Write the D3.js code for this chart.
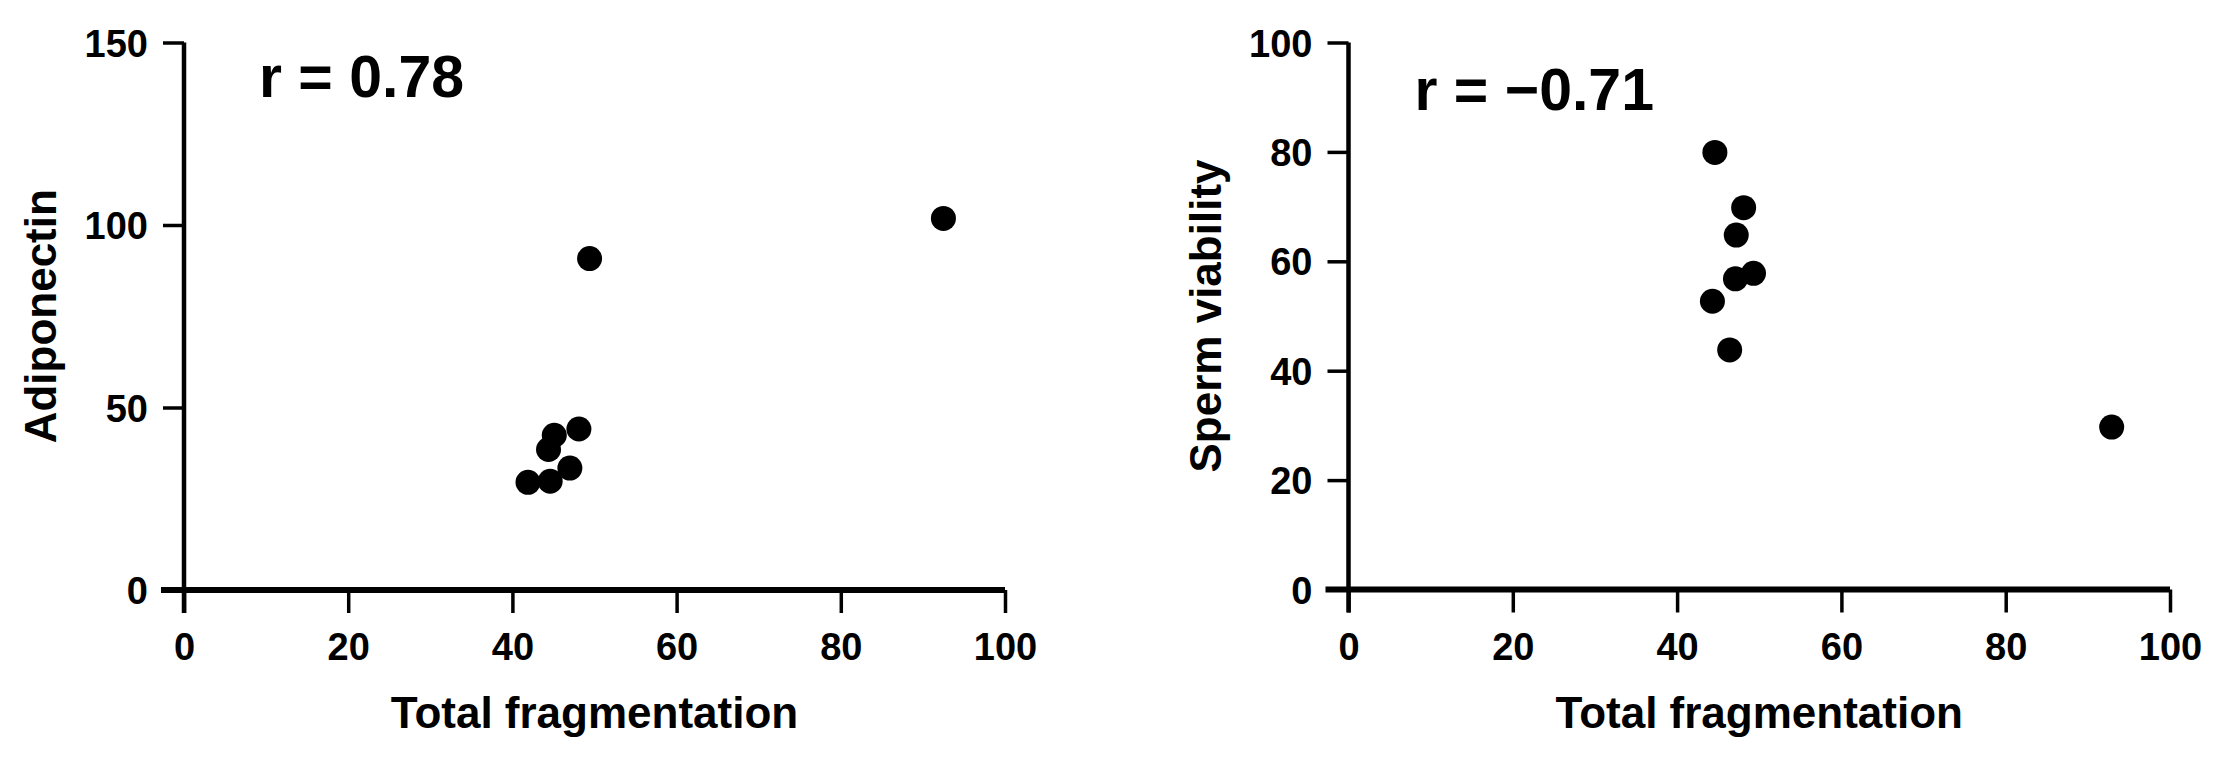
<!DOCTYPE html>
<html>
<head>
<meta charset="utf-8">
<script src="https://cdn.jsdelivr.net/npm/d3@7"></script>
<style>
  html, body { margin: 0; padding: 0; background: #fff; }
  svg { display: block; font-family: "Liberation Sans", Arial, sans-serif; font-weight: bold; }
  .axis path, .axis line { stroke: #000; }
  .axis--x path { stroke-width: 6; }
  .axis--y path { stroke-width: 4.5; }
  .axis line { stroke-width: 3.5; }
  .axis text { font-size: 38px; font-weight: bold; fill: #000; }
  .axis-label { font-size: 44px; font-weight: bold; fill: #000; }
  .r-label { font-size: 59px; font-weight: bold; fill: #000; }
</style>
</head>
<body>
<div id="chart"></div>
<script>
(function () {
  "use strict";

  // Data
  const fragA       = [92.5, 49.4, 48.1, 45.1, 44.4, 47.0, 44.6, 41.9];
  const adiponectin = [101.8, 90.8, 44.1, 42.4, 38.5, 33.4, 29.8, 29.5];
  const fragB       = [44.6, 48.1, 47.2, 49.3, 47.1, 44.3, 46.4, 92.9];
  const viability   = [79.9, 69.8, 64.8, 57.8, 56.8, 52.7, 43.8, 29.7];

  const xTicks  = [0, 20, 40, 60, 80, 100];
  const yTicksA = [0, 50, 100, 150];
  const yTicksB = [0, 20, 40, 60, 80, 100];

  const totalW = 2226;
  const totalH = 757;

  const svg = d3.select("#chart")
    .append("svg")
    .attr("width", totalW)
    .attr("height", totalH);

  const panels = [
    { left: 184, right: 1005, top: 42.5, bottom: 590,
      xs: fragA, ys: adiponectin, yMax: 150, yTicks: yTicksA,
      yLabel: "Adiponectin", r: "r = 0.78", rx: 75, ry: 97 },
    { left: 1348.5, right: 2170, top: 42.5, bottom: 589.5,
      xs: fragB, ys: viability, yMax: 100, yTicks: yTicksB,
      yLabel: "Sperm viability", r: "r = \u22120.71", rx: 66, ry: 110 }
  ];

  panels.forEach(p => {
    const x = d3.scaleLinear().domain([0, 100]).range([p.left, p.right]);
    const y = d3.scaleLinear().domain([0, p.yMax]).range([p.bottom, p.top]);

    const g = svg.append("g");

    // X axis
    const gx = g.append("g")
      .attr("class", "axis axis--x")
      .attr("transform", `translate(0,${p.bottom})`)
      .call(d3.axisBottom(x).tickValues(xTicks).tickSize(23).tickSizeOuter(0));
    gx.select(".domain").attr("d", `M${p.left - 23},0H${p.right}`);
    gx.selectAll(".tick text").attr("y", 70).attr("dy", null);

    // Y axis
    const gy = g.append("g")
      .attr("class", "axis axis--y")
      .attr("transform", `translate(${p.left},0)`)
      .call(d3.axisLeft(y).tickValues(p.yTicks).tickSize(21).tickSizeOuter(0).tickPadding(15));
    gy.select(".domain").attr("d", `M0,${p.top}V${p.bottom + 23}`);
    gy.selectAll(".tick text").attr("dy", "0.36em");

    // Axis labels
    g.append("text")
      .attr("class", "axis-label")
      .attr("x", (p.left + p.right) / 2)
      .attr("y", 728)
      .attr("text-anchor", "middle")
      .text("Total fragmentation");

    g.append("text")
      .attr("class", "axis-label")
      .attr("transform", `translate(${p.left - 128},${(p.top + p.bottom) / 2}) rotate(-90)`)
      .attr("text-anchor", "middle")
      .text(p.yLabel);

    // Correlation label
    g.append("text")
      .attr("class", "r-label")
      .attr("x", p.left + p.rx)
      .attr("y", p.ry)
      .text(p.r);

    // Points
    g.selectAll("circle")
      .data(p.xs.map((v, i) => ({ x: v, y: p.ys[i] })))
      .join("circle")
      .attr("cx", d => x(d.x))
      .attr("cy", d => y(d.y))
      .attr("r", 12.5)
      .attr("fill", "#000");
  });
})();
</script>
</body>
</html>
